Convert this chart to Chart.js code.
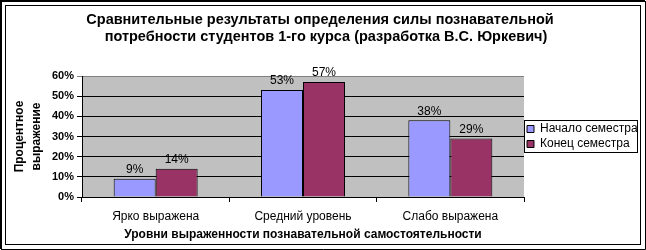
<!DOCTYPE html>
<html>
<head>
<meta charset="utf-8">
<script src="https://cdn.jsdelivr.net/npm/chart.js@4"></script>
<style>
  html, body { margin: 0; padding: 0; background: #fff; }
  #wrap { width: 646px; height: 250px; }
</style>
</head>
<body>
<div id="wrap"><canvas id="myChart" width="646" height="250"></canvas></div>
<script>
const categories = ['Ярко выражена', 'Средний уровень', 'Слабо выражена'];
const nachalo = [9, 53, 38];
const konec = [14, 57, 29];
const seriesNames = ['Начало семестра', 'Конец семестра'];
const titleLines = [
    'Сравнительные результаты определения силы познавательной',
    'потребности студентов 1-го курса (разработка В.С. Юркевич)'
];
const yTitle = ['Процентное', 'выражение'];
const xTitle = 'Уровни выраженности познавательной самостоятельности';

Chart.defaults.font.family = "'Liberation Sans', Arial, sans-serif";
Chart.defaults.color = '#000';

// gray plot area + frame + legend box + title
const decor = {
    id: 'decor',
    beforeDraw(chart) {
        const ctx = chart.ctx, a = chart.chartArea;
        ctx.save();
        ctx.fillStyle = '#fff';
        ctx.fillRect(0, 0, chart.width, chart.height);
        ctx.fillStyle = '#C0C0C0';
        ctx.fillRect(a.left, a.top, a.right - a.left, a.bottom - a.top);
        ctx.restore();
    },
    afterDraw(chart) {
        const ctx = chart.ctx;
        ctx.save();
        // title
        ctx.fillStyle = '#000';
        ctx.font = "bold 14.5px 'Liberation Sans', Arial";
        ctx.textAlign = 'center';
        ctx.textBaseline = 'middle';
        ctx.fillText(titleLines[0], 320, 20);
        ctx.fillText(titleLines[1], 326, 37);
        // frame
        ctx.strokeStyle = '#000';
        ctx.lineWidth = 2;
        ctx.beginPath();
        ctx.moveTo(1, 249); ctx.lineTo(1, 1); ctx.lineTo(645, 1);
        ctx.stroke();
        ctx.lineWidth = 1;
        ctx.beginPath();
        ctx.moveTo(645.5, 1); ctx.lineTo(645.5, 249.5); ctx.lineTo(1, 249.5);
        ctx.stroke();
        ctx.strokeRect(5.5, 5.5, 635, 239);
        // legend border
        const hb = chart.legend.legendHitBoxes;
        if (hb && hb.length) {
            let t = Infinity, b = -Infinity;
            hb.forEach(h => {
                t = Math.min(t, h.top);
                b = Math.max(b, h.top + h.height);
            });
            const l = chart.chartArea.right;
            ctx.strokeRect(Math.round(l) + 0.5, Math.round(t - 3) + 0.5,
                113, Math.round(b - t + 5));
        }
        ctx.restore();
    },
    afterDatasetsDraw(chart) {
        const ctx = chart.ctx;
        ctx.save();
        ctx.fillStyle = '#000';
        ctx.font = "12px 'Liberation Sans', Arial";
        ctx.textAlign = 'center';
        ctx.textBaseline = 'bottom';
        chart.data.datasets.forEach((ds, i) => {
            chart.getDatasetMeta(i).data.forEach((bar, j) => {
                ctx.fillText(ds.data[j] + '%', bar.x, bar.y - 3);
            });
        });
        ctx.restore();
    }
};

var ctx = document.getElementById('myChart').getContext('2d');

var myChart = new Chart(ctx, {
    type: 'bar',
    data: {
        labels: categories,
        datasets: [{
            label: seriesNames[0],
            data: nachalo,
            backgroundColor: '#9999FF',
            borderColor: '#000',
            borderWidth: 1
        }, {
            label: seriesNames[1],
            data: konec,
            backgroundColor: '#993366',
            borderColor: '#000',
            borderWidth: 1
        }]
    },
    options: {
        responsive: false,
        animation: false,
        layout: { padding: { top: 76, left: 0, right: 8, bottom: 0 } },
        datasets: {
            bar: { categoryPercentage: 0.57, barPercentage: 1 }
        },
        plugins: {
            legend: {
                position: 'right',
                fullSize: false,
                maxWidth: 114,
                labels: {
                    boxWidth: 7,
                    boxHeight: 7,
                    padding: 3,
                    font: { size: 12 },
                    color: '#000'
                }
            },
            tooltip: { enabled: false }
        },
        scales: {
            x: {
                grid: { display: true, drawOnChartArea: false, tickLength: 5, color: '#000', offset: true },
                border: { color: '#000' },
                ticks: { font: { size: 12 }, padding: 7, color: '#000', maxRotation: 0 },
                title: { display: true, text: xTitle, font: { size: 12, weight: 'bold' }, padding: { top: 0, bottom: 8 }, color: '#000' },
                afterFit(scale) { scale.height = 53; }
            },
            y: {
                min: 0,
                max: 60,
                ticks: { stepSize: 10, callback: v => v + '%', font: { size: 11, weight: 'bold' }, padding: 3, color: '#000' },
                grid: {
                    color: c => (c.tick && c.tick.value === 60 ? '#808080' : '#000'),
                    tickLength: 5
                },
                border: { color: '#000' },
                title: { display: true, text: yTitle, font: { size: 12, weight: 'bold', lineHeight: 1.35 }, padding: { top: 12, bottom: 0 }, color: '#000' },
                afterFit(scale) { scale.width = 82; }
            }
        }
    },
    plugins: [decor]
});
</script>
</body>
</html>
